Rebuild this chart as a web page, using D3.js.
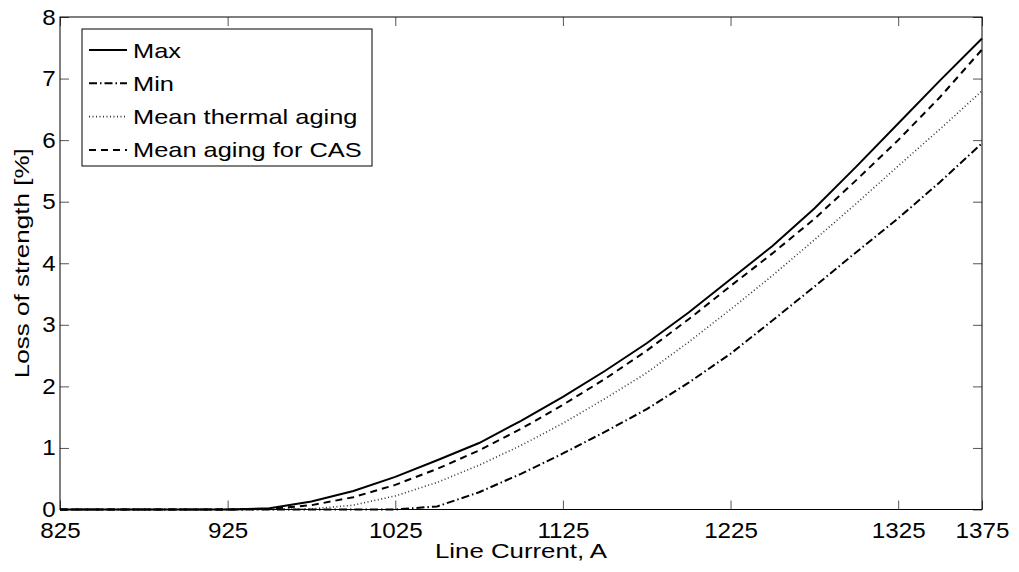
<!DOCTYPE html>
<meta charset="utf-8">
<style>
  body { margin: 0; background: #fff; }
  svg { display: block; font-family: "Liberation Sans", Arial, sans-serif; }
</style>
<svg width="1019" height="572"></svg>
<script src="https://d3js.org/d3.v7.min.js"></script>
<script>

// line current, A
var currents = [825, 850, 875, 900, 925, 950, 975, 1000, 1025, 1050, 1075, 1100,
                1125, 1150, 1175, 1200, 1225, 1250, 1275, 1300, 1325, 1350, 1375];

// loss of strength, %
var maxLoss     = [0, 0, 0, 0, 0, 0.02, 0.13, 0.30, 0.53, 0.80, 1.08, 1.44,
                   1.83, 2.25, 2.70, 3.20, 3.74, 4.28, 4.89, 5.57, 6.27, 6.97, 7.65];
var minLoss     = [0, 0, 0, 0, 0, 0, 0, 0, 0, 0.05, 0.28, 0.58,
                   0.91, 1.26, 1.63, 2.06, 2.53, 3.07, 3.62, 4.18, 4.73, 5.32, 5.95];
var thermalLoss = [0, 0, 0, 0, 0, 0, 0.01, 0.07, 0.22, 0.44, 0.72, 1.04,
                   1.40, 1.80, 2.22, 2.72, 3.25, 3.80, 4.38, 4.97, 5.58, 6.18, 6.80];
var casLoss     = [0, 0, 0, 0, 0, 0.01, 0.07, 0.20, 0.40, 0.66, 0.96, 1.31,
                   1.70, 2.12, 2.58, 3.09, 3.63, 4.16, 4.72, 5.35, 6.00, 6.70, 7.47];

var seriesNames = ["Max", "Min", "Mean thermal aging", "Mean aging for CAS"];
var xTicks = [825, 925, 1025, 1125, 1225, 1325, 1375];
var yTicks = [0, 1, 2, 3, 4, 5, 6, 7, 8];

var series = [
  {name: seriesNames[0], values: maxLoss,     dash: null,        width: 2,   color: "#000"},
  {name: seriesNames[1], values: minLoss,     dash: "8,3,1.5,3", width: 2,   color: "#000"},
  {name: seriesNames[2], values: thermalLoss, dash: "1,2.5",     width: 1.6, color: "#333"},
  {name: seriesNames[3], values: casLoss,     dash: "7,5",       width: 2,   color: "#000"}
];

var svg = d3.select("svg"),
    pL = 60, pR = 982, pT = 17, pB = 509.5;

var x = d3.scaleLinear().domain([825, 1375]).range([pL, pR]);
var y = d3.scaleLinear().domain([0, 8]).range([pB, pT]);

// the reference glyphs are wider than Arial at this height, so stretch horizontally
function styleAxis(g) {
  g.select(".domain").remove();
  g.selectAll(".tick line").attr("stroke", "#555").attr("stroke-width", 1);
  g.selectAll(".tick text")
      .attr("fill", "#000")
      .attr("transform", "scale(1.1,1)")
      .style("font-size", "22px")
      .style("font-family", "Liberation Sans, Arial, sans-serif");
}

svg.append("g")
    .attr("transform", "translate(0," + pB + ")")
    .call(d3.axisBottom(x).tickValues(xTicks).tickSize(-9).tickPadding(13).tickFormat(d3.format("d")))
    .call(styleAxis);

svg.append("g")
    .attr("transform", "translate(0," + pT + ")")
    .call(d3.axisTop(x).tickValues(xTicks).tickSize(-9).tickFormat(""))
    .call(styleAxis);

svg.append("g")
    .attr("transform", "translate(" + pL + ",0)")
    .call(d3.axisLeft(y).tickValues(yTicks).tickSize(-9).tickPadding(4).tickFormat(d3.format("d")))
    .call(styleAxis);

svg.append("g")
    .attr("transform", "translate(" + pR + ",0)")
    .call(d3.axisRight(y).tickValues(yTicks).tickSize(-9).tickFormat(""))
    .call(styleAxis);

var line = d3.line()
    .x(function(d, i) { return x(currents[i]); })
    .y(function(d) { return y(d); });

svg.append("g")
  .selectAll("path")
  .data(series)
  .join("path")
    .attr("d", function(d) { return line(d.values); })
    .attr("fill", "none")
    .attr("stroke", function(d) { return d.color; })
    .attr("stroke-width", function(d) { return d.width; })
    .attr("stroke-dasharray", function(d) { return d.dash; });

// frame
svg.append("rect")
    .attr("x", pL).attr("y", pT)
    .attr("width", pR - pL).attr("height", pB - pT)
    .attr("fill", "none").attr("stroke", "#000").attr("stroke-width", 1);

// axis labels
svg.append("text")
    .attr("transform", "translate(" + ((pL + pR) / 2) + ",558) scale(1.23,1)")
    .attr("text-anchor", "middle")
    .style("font-size", "21px")
    .text("Line Current, A");

svg.append("text")
    .attr("transform", "translate(29," + ((pT + pB) / 2) + ") rotate(-90) scale(1.24,1)")
    .attr("text-anchor", "middle")
    .style("font-size", "21px")
    .text("Loss of strength [%]");

// legend
var legend = svg.append("g");
legend.append("rect")
    .attr("x", 82).attr("y", 29).attr("width", 290).attr("height", 137)
    .attr("fill", "#fff").attr("stroke", "#000").attr("stroke-width", 1);

var item = legend.selectAll("g.item")
  .data(series)
  .join("g")
    .attr("class", "item")
    .attr("transform", function(d, i) { return "translate(0," + (50 + i * 33.3) + ")"; });

item.append("line")
    .attr("x1", 89).attr("x2", 127)
    .attr("stroke", function(d) { return d.color; })
    .attr("stroke-width", function(d) { return d.width; })
    .attr("stroke-dasharray", function(d) { return d.dash; });

item.append("text")
    .attr("transform", "translate(133,0) scale(1.21,1)")
    .attr("dy", "0.36em")
    .style("font-size", "21px")
    .text(function(d) { return d.name; });

</script>
